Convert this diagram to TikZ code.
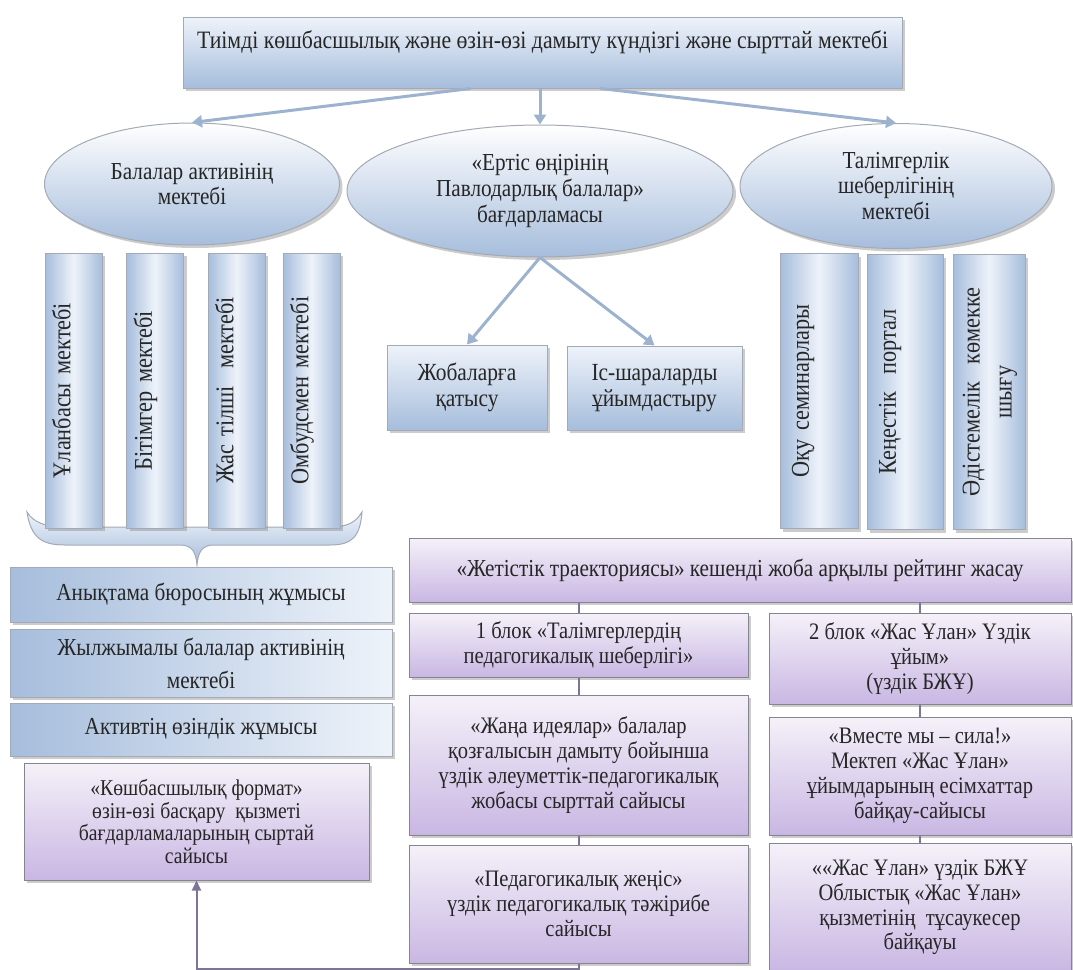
\documentclass[tikz,border=0pt]{standalone}
\usepackage{fontspec}
\setmainfont{Liberation Serif}[FakeStretch=0.87]
\usetikzlibrary{arrows.meta,shadows,shapes.geometric}
\definecolor{blueA}{HTML}{A6BDDC}
\definecolor{blueB}{HTML}{EEF3FA}
\definecolor{edgegray}{HTML}{A3AAB5}
\definecolor{arrowblue}{HTML}{9DB2CF}
\definecolor{purpA}{HTML}{F5F1F9}
\definecolor{purpB}{HTML}{C9B7E3}
\definecolor{purpedge}{HTML}{85858F}
\definecolor{linkpurple}{HTML}{7E7498}
\begin{document}
\begin{tikzpicture}[x=0.5pt,y=-0.5pt,
  txt/.style={font=\fontsize{11.8}{12.4}\selectfont,text=black!85,align=center},
  bluebox/.style={txt,draw=edgegray,line width=0.5pt,top color=blueB,bottom color=blueA,
    drop shadow={opacity=0.4,shadow xshift=1.5pt,shadow yshift=-1.5pt},inner sep=2pt},
  stackbox/.style={bluebox,left color=blueA,right color=blueB,minimum width=191pt,font=\fontsize{12.2}{16.5}\selectfont},
  vbox/.style={bluebox,left color=blueA,right color=blueA,middle color=blueB,font=\fontsize{12.8}{14}\selectfont,
    minimum height=137.5pt,text width=21.5pt,align=left,inner xsep=3.5pt},
  oval/.style={bluebox,ellipse,inner sep=0pt,top color=white,bottom color=blueA,font=\fontsize{12.2}{12.8}\selectfont},
  purplebox/.style={txt,draw=purpedge,line width=0.5pt,top color=purpA,bottom color=purpB,
    drop shadow={opacity=0.4,shadow xshift=1.5pt,shadow yshift=-1.5pt},inner sep=2pt},
  barrow/.style={draw=arrowblue,line width=1.5pt,-{Triangle[length=5pt,width=6pt]}},
  plink/.style={draw=linkpurple,line width=1pt}]
\useasboundingbox (0,0) rectangle (1073,970);

\node[bluebox,minimum width=359.5pt,minimum height=35.5pt,text height=12pt,text depth=16.5pt,inner ysep=3.5pt,font=\fontsize{12.5}{13}\selectfont] (top) at (542.5,52.5) {Тиімді көшбасшылық және өзін-өзі дамыту күндізгі және сырттай мектебі};

\node[oval,minimum width=147.5pt,minimum height=61pt] (e1) at (192,184) {Балалар активінің\\мектебі};
\node[oval,minimum width=193pt,minimum height=66pt] (e2) at (540,191) {«Ертіс өңірінің\\Павлодарлық балалар»\\бағдарламасы};
\node[oval,minimum width=156pt,minimum height=62.5pt] (e3) at (896,186) {Талімгерлік\\шеберлігінің\\мектебі};

\draw[barrow] ([xshift=-36pt]top.south) -- (e1.north);
\draw[barrow] (e2.north |- top.south) -- (e2.north);
\draw[barrow] ([xshift=29pt]top.south) -- (e3.north);

\path[draw=edgegray,line width=0.5pt,top color=blueB,bottom color=blueA]
  (27,512) .. controls (31,538) and (42,545) .. (65,545) -- (180,545)
  .. controls (192,545) and (196,552) .. (197,565) .. controls (198,552) and (202,545) .. (214,545)
  -- (330,545) .. controls (353,545) and (360,536) .. (362,512)
  .. controls (356,522) and (348,527) .. (330,527) -- (65,527)
  .. controls (45,527) and (33,522) .. (27,512) -- cycle;

\node[vbox,minimum width=28.5pt] (v1) at (73.5,390.5) {\rotatebox{90}{Ұланбасы мектебі}};
\node[vbox,minimum width=28pt] (v2) at (155,390.5) {\rotatebox{90}{Бітімгер мектебі}};
\node[vbox,minimum width=28.5pt] (v3) at (236.5,390.5) {\rotatebox{90}{Жас тілші\ \ мектебі}};
\node[vbox,minimum width=28.5pt] (v4) at (311.5,390.5) {\rotatebox{90}{Омбудсмен мектебі}};

\node[vbox,minimum width=39pt,text width=27pt] (r1) at (819,391) {\rotatebox{90}{Оқу семинарлары}};
\node[vbox,minimum width=38pt,text width=26pt] (r2) at (905,392) {\rotatebox{90}{Кеңестік\ \ портал}};
\node[vbox,minimum width=36pt,text width=29pt] (r3) at (989,392) {\rotatebox{90}{\begin{tabular}{@{}c@{}}Әдістемелік\ \ көмекке\\[2pt]шығу\end{tabular}}};

\node[bluebox,minimum width=80pt,minimum height=42.5pt,font=\fontsize{12.3}{13.3}\selectfont] (m1) at (467,387.5) {Жобаларға\\қатысу};
\node[bluebox,minimum width=87.5pt,minimum height=42pt,font=\fontsize{12.3}{13.3}\selectfont] (m2) at (654.5,388) {Іс-шараларды\\ұйымдастыру};
\draw[barrow] (e2.south) -- (m1.north);
\draw[barrow] (e2.south) -- (m2.north);

\node[stackbox,minimum height=27.5pt] (s1) at (201,594.5) {Анықтама бюросының жұмысы};
\node[stackbox,minimum height=34pt] (s2) at (201,663) {Жылжымалы балалар активінің\\мектебі};
\node[stackbox,minimum height=26.5pt] (s3) at (201,729.5) {Активтің өзіндік жұмысы};
\node[purplebox,minimum width=172.5pt,minimum height=58.5pt,font=\fontsize{11.3}{11.4}\selectfont] (k) at (196.5,821.5) {«Көшбасшылық формат»\\өзін-өзі басқару\ \ қызметі\\бағдарламаларының сыртай\\сайысы};

\node[purplebox,minimum width=331pt,minimum height=32pt,font=\fontsize{12.2}{13}\selectfont] (j) at (740,570) {«Жетістік траекториясы» кешенді жоба арқылы рейтинг жасау};
\node[purplebox,minimum width=169.5pt,minimum height=32pt] (b1) at (578.5,645) {1 блок «Талімгерлердің\\педагогикалық шеберлігі»};
\node[purplebox,minimum width=169.5pt,minimum height=70pt] (p1) at (578.5,765) {«Жаңа идеялар» балалар\\қозғалысын дамыту бойынша\\үздік әлеуметтік-педагогикалық\\жобасы сырттай сайысы};
\node[purplebox,minimum width=169.5pt,minimum height=59pt] (p3) at (578.5,904) {«Педагогикалық жеңіс»\\үздік педагогикалық тәжірибе\\сайысы};
\node[purplebox,minimum width=151pt,minimum height=45.5pt] (b2) at (920,658.5) {2 блок «Жас Ұлан» Үздік\\ұйым»\\(үздік БЖҰ)};
\node[purplebox,minimum width=151pt,minimum height=59pt] (p2) at (920,776) {«Вместе мы – сила!»\\Мектеп «Жас Ұлан»\\ұйымдарының есімхаттар\\байқау-сайысы};
\node[purplebox,minimum width=151pt,minimum height=64.5pt] (p4) at (920,907.5) {««Жас Ұлан» үздік БЖҰ\\Облыстық «Жас Ұлан»\\қызметінің\ \ тұсаукесер\\байқауы};

\draw[plink] (j.south -| b1.north) -- (b1.north);
\draw[plink] (b1) -- (p1);
\draw[plink] (p1) -- (p3);
\draw[plink] (j.south -| b2.north) -- (b2.north);
\draw[plink] (b2) -- (p2);
\draw[plink] (p2) -- (p4);
\draw[plink,-{Triangle[length=5pt,width=4.5pt]}] (p3.south) -- ++(0,5) -| (k.south);
\end{tikzpicture}
\end{document}
